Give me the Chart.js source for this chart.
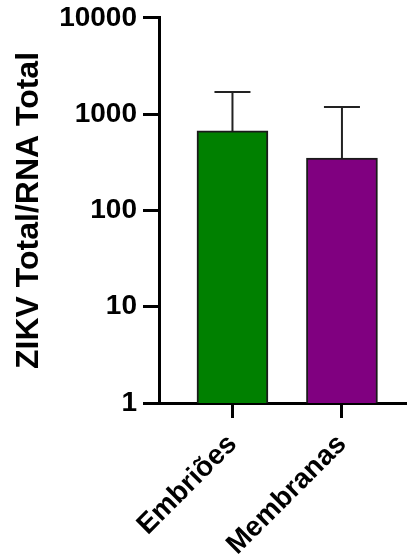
<!DOCTYPE html>
<html>
<head>
<meta charset="utf-8">
<script src="https://cdn.jsdelivr.net/npm/chart.js@4.4.0/dist/chart.umd.min.js"></script>
<style>
  html, body { margin: 0; padding: 0; background: #fff; }
  #wrap { width: 408px; height: 559px; }
</style>
</head>
<body>
<div id="wrap"><canvas id="zikvChart"></canvas></div>
<script>
const categories = ['Embriões', 'Membranas'];
const means = [670, 350];
const errorTops = [1700, 1190];
const barColors = ['#008000', '#800080'];
const yTicks = [1, 10, 100, 1000, 10000];
const xPositions = [1, 2];

const fontFamily = '"Liberation Sans", Arial, sans-serif';

// upper-only error bars, GraphPad style
const errorBars = {
    id: 'errorBars',
    afterDatasetsDraw(chart) {
        const ctx = chart.ctx;
        const meta = chart.getDatasetMeta(0);
        const yScale = chart.scales.y;
        ctx.save();
        ctx.strokeStyle = '#222';
        ctx.lineWidth = 2;
        meta.data.forEach(function(bar, i) {
            const top = yScale.getPixelForValue(errorTops[i]);
            ctx.beginPath();
            ctx.moveTo(bar.x, bar.y);
            ctx.lineTo(bar.x, top);
            ctx.moveTo(bar.x - 18, top);
            ctx.lineTo(bar.x + 18, top);
            ctx.stroke();
        });
        ctx.restore();
    }
};

new Chart(document.getElementById('zikvChart'), {
    type: 'bar',
    data: {
        datasets: [{
            data: xPositions.map((x, i) => ({ x: x, y: means[i] })),
            backgroundColor: barColors,
            borderColor: '#1a1a1a',
            borderWidth: 2,
            barThickness: 71
        }]
    },
    options: {
        responsive: true,
        maintainAspectRatio: false,
        animation: false,
        layout: {
            padding: { top: 0, right: 2, left: 0, bottom: 0 }
        },
        plugins: {
            legend: { display: false },
            tooltip: { enabled: false }
        },
        scales: {
            x: {
                type: 'linear',
                min: 0.329,
                max: 2.585,
                offset: false,
                afterBuildTicks: function(scale) {
                    scale.ticks = xPositions.map(v => ({ value: v }));
                },
                afterFit: function(scale) {
                    scale.height = 156;
                },
                ticks: {
                    autoSkip: false,
                    maxRotation: 45,
                    minRotation: 45,
                    padding: 10,
                    color: '#000',
                    font: { family: fontFamily, size: 28, weight: 'bold' },
                    callback: function(value, index) {
                        return categories[index];
                    }
                },
                grid: {
                    offset: false,
                    drawOnChartArea: false,
                    tickLength: 15,
                    tickWidth: 3,
                    color: '#000'
                },
                border: { color: '#000', width: 3 }
            },
            y: {
                type: 'logarithmic',
                min: 1,
                max: 10000,
                afterBuildTicks: function(scale) {
                    scale.ticks = yTicks.map(v => ({ value: v, major: true }));
                },
                afterFit: function(scale) {
                    scale.width = 159;
                },
                ticks: {
                    autoSkip: false,
                    padding: 6,
                    color: '#000',
                    font: { family: fontFamily, size: 28, weight: 'bold', lineHeight: 0.85 },
                    callback: function(value) {
                        return String(value);
                    }
                },
                grid: {
                    drawOnChartArea: false,
                    tickLength: 16,
                    tickWidth: 3,
                    color: '#000'
                },
                border: { color: '#000', width: 3 },
                title: {
                    display: true,
                    text: 'ZIKV Total/RNA Total',
                    color: '#000',
                    font: { family: fontFamily, size: 32, weight: 'bold' },
                    padding: { top: 10, bottom: 0 }
                }
            }
        }
    },
    plugins: [errorBars]
});
</script>
</body>
</html>
